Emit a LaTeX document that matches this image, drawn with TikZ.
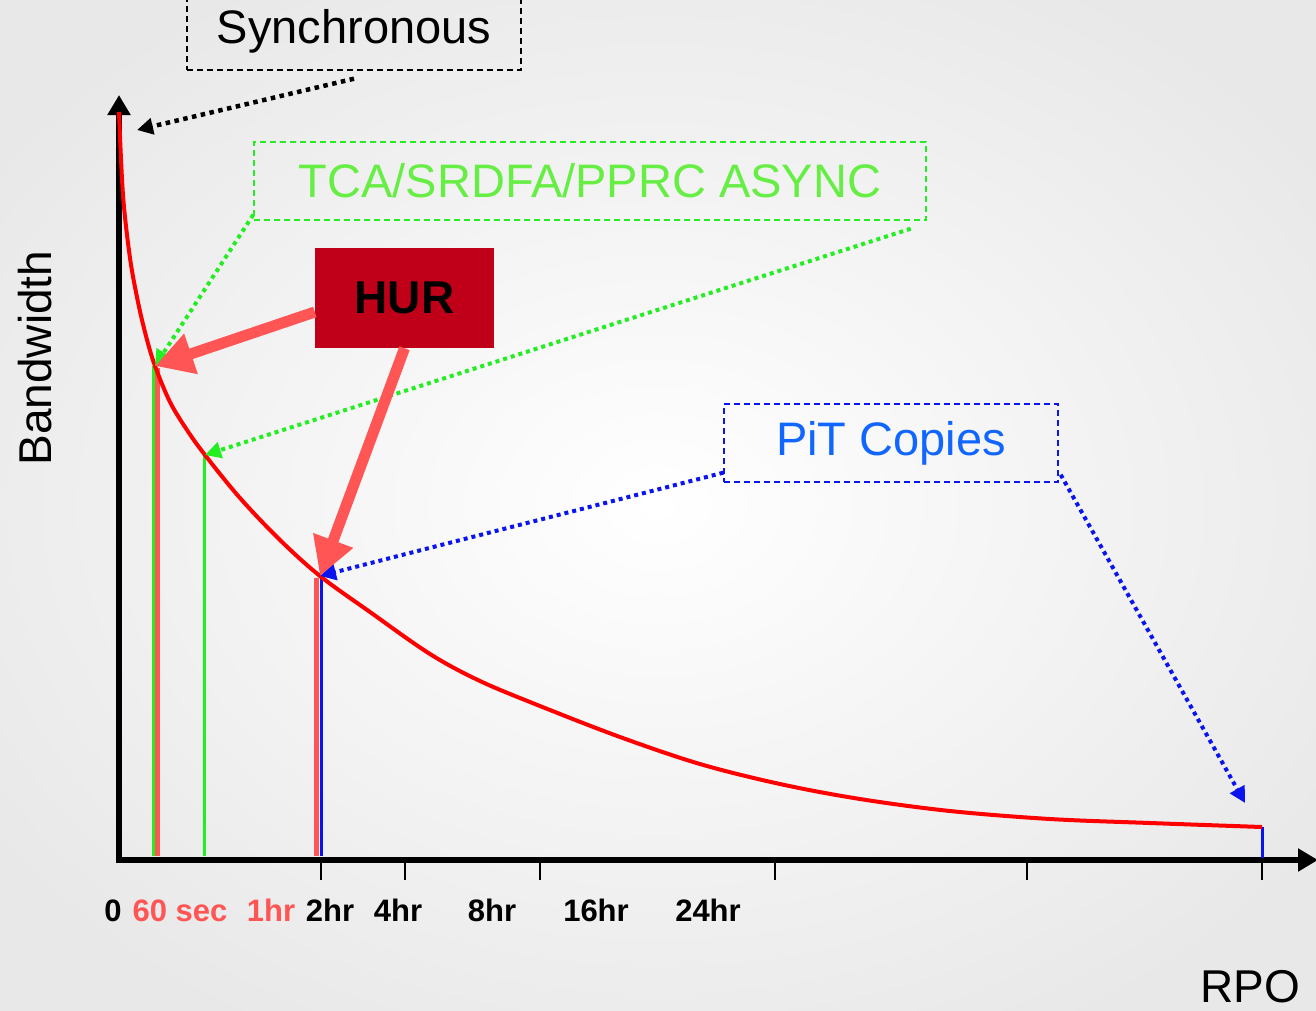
\documentclass[tikz,border=0pt]{standalone}
\usepackage{fontspec}
\setmainfont{Liberation Sans}
\usetikzlibrary{arrows.meta}
\definecolor{salmon}{HTML}{FF5555}
\definecolor{hurred}{HTML}{C00018}
\definecolor{gline}{HTML}{22EE22}
\definecolor{gtext}{HTML}{66EE44}
\definecolor{bline}{HTML}{0A14F0}
\definecolor{btext}{HTML}{1166FF}
\newcommand{\fs}[1]{\fontsize{#1}{#1}\selectfont}
\tikzset{
  box/.style={draw, line width=1.4pt, dash pattern=on 6pt off 4pt, inner sep=0pt, font=\fs{47}},
  dotarrow/.style={line width=4.5pt, dash pattern=on 4.5pt off 4.5pt, -{Triangle[length=16pt,width=16pt]}},
  bigarrow/.style={salmon, line width=11pt, -{Triangle[length=38pt,width=40pt]}},
  axis/.style={line width=6pt, -{Triangle[length=20pt,width=22pt]}},
  tick/.style={line width=2pt},
  ticklab/.style={anchor=base, font=\bfseries\fs{31}, inner sep=0pt}
}
\begin{document}
\begin{tikzpicture}[x=1pt,y=-1pt]
\useasboundingbox (0,0) rectangle (1316,1010);
\shade[inner color=white, outer color=black!9] (-150,-100) rectangle (1466,1110);

% key points on curve
\coordinate (p0) at (119,115);
\coordinate (p60) at (155,366);
\coordinate (p1hr) at (205,455);
\coordinate (p2hr) at (320,576);
\coordinate (pend) at (1262,827);

% axes
\coordinate (ytop) at (119,95);
\coordinate (xend) at (1318,860);
\draw[axis] (119,863) -- (ytop);
\draw[axis] (116,860) -- (xend);
\foreach \x in {321,405,540,775,1027,1262} \draw[tick] (\x,860) -- (\x,880);

% vertical markers
\draw[gline, line width=3pt] (153,366) -- (153,856);
\draw[salmon, line width=5pt] (157.5,368) -- (157.5,856);
\draw[gline, line width=3pt] (204,455) -- (204,856);
\draw[salmon, line width=5pt] (316.5,578) -- (316.5,856);
\draw[bline, line width=3pt] (321,578) -- (321,856);
\draw[bline, line width=3pt] (1262,827) -- (1262,858);

% curve
\draw[red, line width=4pt, line join=round] plot[smooth, tension=0.55] coordinates {
(119,112) (123,195) (130,258) (138,302) (146,336) (155,366) (170,402) (187,430) (205,455)
(240,498) (280,540) (320,576) (370,612) (430,654) (480,681) (540,706) (620,737) (700,764)
(780,784) (860,799) (950,811) (1050,819) (1150,823) (1262,827)};

% tick labels
\node[ticklab] at (113,921) {0};
\node[ticklab, text=salmon] at (180,921) {60 sec};
\node[ticklab, text=salmon] at (271,921) {1hr};
\node[ticklab] at (330,921) {2hr};
\node[ticklab] at (398,921) {4hr};
\node[ticklab] at (492,921) {8hr};
\node[ticklab] at (596,921) {16hr};
\node[ticklab] at (708,921) {24hr};

% axis titles
\node[rotate=90, font=\fs{46}, inner sep=0pt] (bw) at (35,358) {Bandwidth};
\node[anchor=base, font=\fs{46}, inner sep=0pt] (rpo) at (1250,1002) {RPO};

% boxes
\node[box, minimum width=334pt, minimum height=78pt] (sync) at (354,31) {Synchronous};
\node[box, gline, text=gtext, minimum width=672pt, minimum height=78pt] (tca) at (590,181) {TCA/SRDFA/PPRC ASYNC};
\node[box, bline, text=btext, minimum width=334pt, minimum height=78pt] (pit) at (891,443) {PiT Copies};
\node[fill=hurred, minimum width=179pt, minimum height=100pt, inner sep=0pt, font=\bfseries\fs{46}] (hur) at (404.5,298) {HUR};

% dotted arrows
\draw[dotarrow, black] ([yshift=-8pt]sync.south) -- ([xshift=18pt,yshift=-15pt]p0);
\draw[dotarrow, gline, line width=4pt, dash pattern=on 4pt off 4pt] ([yshift=6pt]tca.south west) -- (p60);
\draw[dotarrow, gline, line width=4pt, dash pattern=on 4pt off 4pt] ([xshift=-16pt,yshift=-8pt]tca.south east) -- (p1hr);
\draw[dotarrow, bline, line width=4pt, dash pattern=on 4pt off 4pt] ([yshift=10pt]pit.south west) -- (p2hr);
\draw[dotarrow, bline, line width=4pt, dash pattern=on 4pt off 4pt] ([xshift=2pt,yshift=8pt]pit.south east) -- ([xshift=-17pt,yshift=24pt]pend);

% HUR arrows
\draw[bigarrow] ([yshift=-14pt]hur.west) -- (p60);
\draw[bigarrow] (hur.south) -- (p2hr);
\end{tikzpicture}
\end{document}
